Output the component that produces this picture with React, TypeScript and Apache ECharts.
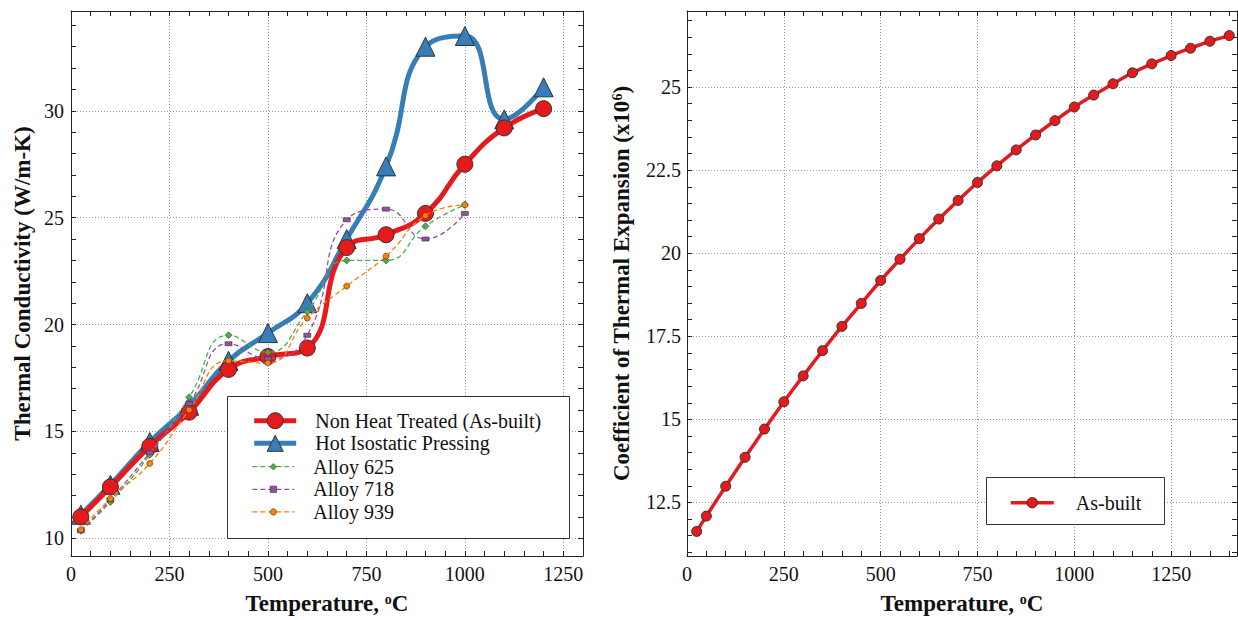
import React, { useEffect, useRef } from 'react';
import * as echarts from 'echarts';

// ---------- data ----------
const tempLeft = [25, 100, 200, 300, 400, 500, 600, 700, 800, 900, 1000, 1100, 1200];
const asBuiltK = [11.0, 12.4, 14.3, 15.9, 17.9, 18.5, 18.9, 23.6, 24.2, 25.2, 27.5, 29.2, 30.1];
const hipK = [11.1, 12.5, 14.5, 16.2, 18.3, 19.6, 21.0, 24.0, 27.4, 33.0, 33.5, 29.6, 31.1];

const tempAlloy = [25, 100, 200, 300, 400, 500, 600, 700, 800, 900, 1000];
const alloy625 = [10.35, 11.7, 13.9, 16.6, 19.5, 18.7, 20.6, 23.0, 23.0, 24.6, 25.6];
const alloy718 = [10.35, 11.8, 14.0, 16.3, 19.1, 18.4, 19.5, 24.9, 25.4, 24.0, 25.2];
const alloy939 = [10.4, 11.85, 13.5, 16.0, 18.3, 18.2, 20.3, 21.8, 23.2, 25.1, 25.6];

const tempCte = [25, 50, 100, 150, 200, 250, 300, 350, 400, 450, 500, 550, 600, 650, 700, 750, 800, 850, 900, 950, 1000, 1050, 1100, 1150, 1200, 1250, 1300, 1350, 1400];
const cteAsBuilt = [11.63, 12.09, 12.99, 13.86, 14.71, 15.53, 16.31, 17.07, 17.8, 18.49, 19.18, 19.82, 20.44, 21.03, 21.59, 22.13, 22.63, 23.11, 23.56, 23.99, 24.4, 24.76, 25.1, 25.43, 25.7, 25.95, 26.17, 26.38, 26.55];

const leftXTicks = [0, 250, 500, 750, 1000, 1250];
const leftYTicks = [10, 15, 20, 25, 30];
const rightXTicks = [0, 250, 500, 750, 1000, 1250];
const rightYTicks = [12.5, 15, 17.5, 20, 22.5, 25];

const names = {
  asBuilt: 'Non Heat Treated (As-built)',
  hip: 'Hot Isostatic Pressing',
  a625: 'Alloy 625',
  a718: 'Alloy 718',
  a939: 'Alloy 939',
  cte: 'As-built',
};

// ---------- style ----------
const FONT = 'Liberation Serif';
const AXIS_COLOR = '#222';
const RED = '#e41a1c';
const BLUE = '#377eb8';
const GREEN = '#4daf4a';
const PURPLE = '#984ea3';
const ORANGE = '#ff7f00';

function range(a: number, b: number, step: number) {
  const out: number[] = [];
  for (let v = a; v <= b + 1e-9; v += step) out.push(Math.round(v * 1000) / 1000);
  return out;
}

const titleRich = {
  a: { fontFamily: FONT, fontWeight: 'bold', fontSize: 23, color: '#111' },
  s: { fontFamily: FONT, fontWeight: 'bold', fontSize: 14, color: '#111', verticalAlign: 'top', lineHeight: 14 },
};

function mainAxis(dim: 'x' | 'y', gridIndex: number, min: number, max: number, ticks: number[], name: string, nameGap: number, labelMargin: number) {
  return {
    type: 'value',
    gridIndex,
    min,
    max,
    position: dim === 'x' ? 'bottom' : 'left',
    name,
    nameLocation: 'middle',
    nameGap,
    nameTextStyle: { fontFamily: FONT, rich: titleRich },
    axisLine: { show: true, onZero: false, lineStyle: { color: AXIS_COLOR, width: 1 } },
    axisTick: { show: false, customValues: ticks },
    axisLabel: {
      customValues: ticks,
      fontFamily: FONT,
      fontSize: 20,
      color: '#111',
      margin: labelMargin,
      formatter: (v: number) => String(v),
    },
    splitLine: { show: true, lineStyle: { color: '#999', type: [1, 2], width: 1 } },
  };
}

function tickAxis(gridIndex: number, min: number, max: number, values: number[], position: string, showLine: boolean) {
  return {
    type: 'value',
    gridIndex,
    min,
    max,
    position,
    axisLine: { show: showLine, onZero: false, lineStyle: { color: AXIS_COLOR, width: 1 } },
    axisTick: { show: true, inside: true, length: 5, customValues: values, lineStyle: { color: AXIS_COLOR, width: 1 } },
    axisLabel: { show: false },
    splitLine: { show: false },
  };
}

export default function App() {
  const ref = useRef<HTMLDivElement>(null);

  useEffect(() => {
    if (!ref.current) return;
    const chart = echarts.init(ref.current, undefined, { renderer: 'svg' });

    const LX = [0, 1300];
    const LY = [9.17, 34.67];
    const RX = [0, 1420];
    const RY = [10.89, 27.29];

    const xAxis = [
      mainAxis('x', 0, LX[0], LX[1], leftXTicks, '{a|Temperature, }{s|o}{a|C}', 36, 8),
      tickAxis(0, LX[0], LX[1], range(0, 1300, 50), 'bottom', false),
      tickAxis(0, LX[0], LX[1], range(0, 1300, 50), 'top', true),
      mainAxis('x', 1, RX[0], RX[1], rightXTicks, '{a|Temperature, }{s|o}{a|C}', 36, 8),
      tickAxis(1, RX[0], RX[1], range(0, 1400, 50), 'bottom', false),
      tickAxis(1, RX[0], RX[1], range(0, 1400, 50), 'top', true),
    ];
    const yAxis = [
      mainAxis('y', 0, LY[0], LY[1], leftYTicks, '{a|Thermal Conductivity (W/m-K)}', 37, 7),
      tickAxis(0, LY[0], LY[1], range(10, 34, 1), 'left', false),
      tickAxis(0, LY[0], LY[1], range(10, 34, 1), 'right', true),
      mainAxis('y', 1, RY[0], RY[1], rightYTicks, '{a|Coefficient of Thermal Expansion (x10}{s|6}{a|)}', 54, 6),
      tickAxis(1, RY[0], RY[1], range(11, 27, 0.5), 'left', false),
      tickAxis(1, RY[0], RY[1], range(11, 27, 0.5), 'right', true),
    ];

    const pairs = (xs: number[], ys: number[]) => xs.map((x, i) => [x, ys[i]]);

    const thick = (name: string, color: string, symbol: string, size: number, ys: number[], z: number, smooth: number) => ({
      name,
      type: 'line',
      xAxisIndex: 0,
      yAxisIndex: 0,
      data: pairs(tempLeft, ys),
      smooth,
      symbol,
      symbolSize: size,
      z,
      lineStyle: { color, width: 5 },
      itemStyle: { color, borderColor: '#333', borderWidth: 1 },
    });

    const dashed = (name: string, color: string, symbol: string, size: any, ys: number[]) => ({
      name,
      type: 'line',
      xAxisIndex: 0,
      yAxisIndex: 0,
      data: pairs(tempAlloy, ys),
      smooth: 0.5,
      symbol,
      symbolSize: size,
      z: 4,
      lineStyle: { color, width: 1.3, type: [5, 3] },
      itemStyle: { color, borderColor: '#333', borderWidth: 0.6 },
    });

    const legendText = { fontFamily: FONT, fontSize: 20, color: '#111', padding: [0, 0, 0, 14] };

    const option = {
      animation: false,
      backgroundColor: '#fff',
      textStyle: { fontFamily: FONT },
      grid: [
        { left: 71, top: 11, width: 512, height: 546, containLabel: false },
        { left: 687, top: 11, width: 550, height: 546, containLabel: false },
      ],
      xAxis,
      yAxis,
      graphic: [
        {
          type: 'rect',
          z: 20,
          shape: { x: 227.5, y: 396.5, width: 342, height: 142 },
          style: { fill: '#fff', stroke: '#333', lineWidth: 1 },
        },
        {
          type: 'rect',
          z: 20,
          shape: { x: 986.5, y: 477.5, width: 178, height: 47 },
          style: { fill: '#fff', stroke: '#333', lineWidth: 1 },
        },
      ],
      legend: [
        {
          z: 30,
          orient: 'vertical',
          left: 251.7,
          top: 410.7,
          padding: 0,
          itemWidth: 42,
          itemHeight: 20,
          itemGap: 2.6,
          selectedMode: false,
          textStyle: legendText,
          data: [
            { name: names.asBuilt, lineStyle: { width: 5 }, itemStyle: { borderWidth: 1, borderColor: '#333' } },
            { name: names.hip, lineStyle: { width: 5 }, itemStyle: { borderWidth: 1, borderColor: '#333' } },
          ],
        },
        {
          z: 30,
          orient: 'vertical',
          left: 251.7,
          top: 456.7,
          padding: 0,
          itemWidth: 42,
          itemHeight: 8,
          itemGap: 2.6,
          selectedMode: false,
          textStyle: legendText,
          data: [
            { name: names.a625, lineStyle: { width: 1.3 }, itemStyle: { borderWidth: 0.6, borderColor: '#333' } },
            { name: names.a718, lineStyle: { width: 1.3 }, itemStyle: { borderWidth: 0.6, borderColor: '#333' } },
            { name: names.a939, lineStyle: { width: 1.3 }, itemStyle: { borderWidth: 0.6, borderColor: '#333' } },
          ],
        },
        {
          z: 30,
          orient: 'vertical',
          left: 1009,
          top: 492.7,
          padding: 0,
          itemWidth: 43,
          itemHeight: 13,
          selectedMode: false,
          textStyle: { fontFamily: FONT, fontSize: 20, color: '#111', padding: [0, 0, 0, 17] },
          data: [
            { name: names.cte, lineStyle: { width: 3.5 }, itemStyle: { borderWidth: 1, borderColor: '#333' } },
          ],
        },
      ],
      series: [
        thick(names.hip, BLUE, 'triangle', 19, hipK, 2, 0.5),
        thick(names.asBuilt, RED, 'circle', 16, asBuiltK, 3, 0.5),
        dashed(names.a625, GREEN, 'diamond', 7, alloy625),
        dashed(names.a718, PURPLE, 'rect', [7, 4], alloy718),
        dashed(names.a939, ORANGE, 'circle', 6, alloy939),
        {
          name: names.cte,
          type: 'line',
          xAxisIndex: 3,
          yAxisIndex: 3,
          data: pairs(tempCte, cteAsBuilt),
          smooth: 0.2,
          symbol: 'circle',
          symbolSize: 10,
          lineStyle: { color: RED, width: 3.5 },
          itemStyle: { color: RED, borderColor: '#333', borderWidth: 1 },
        },
      ],
    };

    chart.setOption(option as any);
    return () => chart.dispose();
  }, []);

  return (
    <div
      ref={ref}
      style={{ position: 'absolute', left: 0, top: 0, width: 1238, height: 620 }}
    />
  );
}
